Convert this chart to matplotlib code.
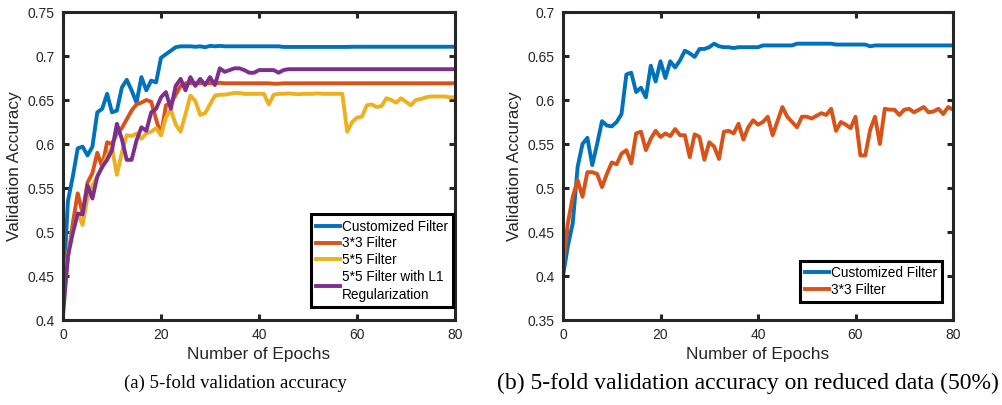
import numpy as np
import matplotlib
matplotlib.use("Agg")
import matplotlib.pyplot as plt
from matplotlib.ticker import FormatStrFormatter

# epochs 0..80
epochs = np.arange(81)

# (a) 5-fold validation accuracy
acc_custom = [0.430, 0.535, 0.563, 0.595, 0.597, 0.587, 0.597, 0.636, 0.640, 0.657,
              0.636, 0.638, 0.664, 0.673, 0.661, 0.647, 0.676, 0.661, 0.672, 0.670,
              0.698, 0.702, 0.706, 0.710, 0.711, 0.711, 0.711, 0.7105, 0.711, 0.710,
              0.7115, 0.711, 0.7115, 0.711, 0.711, 0.711, 0.711, 0.711, 0.711, 0.711,
              0.711, 0.711, 0.711, 0.711, 0.711, 0.7103, 0.7103, 0.7103, 0.7103, 0.7103,
              0.7103, 0.7103, 0.7103, 0.7103, 0.7103, 0.7103, 0.7103, 0.7103, 0.7103, 0.7105,
              0.7105, 0.7105, 0.7105, 0.7105, 0.7105, 0.7105, 0.7105, 0.7105, 0.7105, 0.7105,
              0.7105, 0.7105, 0.7105, 0.7105, 0.7105, 0.7105, 0.7105, 0.7105, 0.7105, 0.7105,
              0.7105]
acc_3x3 = [0.420, 0.470, 0.510, 0.544, 0.521, 0.556, 0.567, 0.590, 0.574, 0.602,
           0.600, 0.612, 0.618, 0.628, 0.638, 0.645, 0.647, 0.650, 0.648, 0.628,
           0.610, 0.644, 0.646, 0.656, 0.666, 0.669, 0.669, 0.669, 0.669, 0.669,
           0.669, 0.669, 0.6695, 0.669, 0.669, 0.669, 0.669, 0.669, 0.669, 0.669,
           0.669, 0.669, 0.669, 0.6685, 0.6685, 0.669, 0.669, 0.669, 0.669, 0.669,
           0.669, 0.669, 0.669, 0.669, 0.669, 0.669, 0.669, 0.669, 0.669, 0.669,
           0.669, 0.669, 0.669, 0.669, 0.669, 0.669, 0.669, 0.669, 0.669, 0.669,
           0.669, 0.669, 0.669, 0.669, 0.669, 0.669, 0.669, 0.669, 0.669, 0.669,
           0.669]
acc_5x5 = [0.420, 0.476, 0.500, 0.521, 0.508, 0.540, 0.553, 0.563, 0.574, 0.587,
           0.596, 0.565, 0.590, 0.610, 0.609, 0.612, 0.606, 0.612, 0.614, 0.618,
           0.610, 0.630, 0.639, 0.622, 0.614, 0.634, 0.655, 0.649, 0.633, 0.635,
           0.645, 0.655, 0.656, 0.656, 0.657, 0.658, 0.658, 0.657, 0.657, 0.657,
           0.657, 0.657, 0.645, 0.656, 0.657, 0.657, 0.6575, 0.657, 0.6565, 0.657,
           0.657, 0.657, 0.6575, 0.657, 0.657, 0.657, 0.657, 0.657, 0.614, 0.625,
           0.630, 0.631, 0.644, 0.645, 0.642, 0.643, 0.652, 0.650, 0.647, 0.652,
           0.648, 0.644, 0.650, 0.651, 0.653, 0.654, 0.654, 0.654, 0.654, 0.653,
           0.653]
acc_5x5_l1 = [0.405, 0.473, 0.499, 0.521, 0.520, 0.553, 0.538, 0.563, 0.574, 0.582,
              0.593, 0.623, 0.606, 0.582, 0.582, 0.604, 0.619, 0.615, 0.636, 0.640,
              0.653, 0.659, 0.640, 0.666, 0.674, 0.661, 0.676, 0.666, 0.674, 0.667,
              0.676, 0.667, 0.686, 0.682, 0.684, 0.686, 0.686, 0.684, 0.681, 0.681,
              0.684, 0.684, 0.684, 0.684, 0.681, 0.684, 0.685, 0.685, 0.685, 0.685,
              0.685, 0.685, 0.685, 0.685, 0.685, 0.685, 0.685, 0.685, 0.685, 0.685,
              0.685, 0.685, 0.685, 0.685, 0.685, 0.685, 0.685, 0.685, 0.685, 0.685,
              0.685, 0.685, 0.685, 0.685, 0.685, 0.685, 0.685, 0.685, 0.685, 0.685,
              0.685]

# (b) reduced data (50%)
red_custom = [0.400, 0.434, 0.460, 0.524, 0.550, 0.557, 0.526, 0.550, 0.576, 0.571,
              0.570, 0.575, 0.584, 0.629, 0.631, 0.609, 0.614, 0.603, 0.639, 0.621,
              0.644, 0.625, 0.644, 0.637, 0.645, 0.656, 0.653, 0.649, 0.658, 0.658,
              0.660, 0.664, 0.661, 0.660, 0.660, 0.659, 0.660, 0.660, 0.660, 0.660,
              0.660, 0.662, 0.662, 0.662, 0.662, 0.662, 0.662, 0.662, 0.664, 0.664,
              0.664, 0.664, 0.664, 0.664, 0.664, 0.664, 0.663, 0.663, 0.663, 0.663,
              0.663, 0.663, 0.663, 0.661, 0.662, 0.662, 0.662, 0.662, 0.662, 0.662,
              0.662, 0.662, 0.662, 0.662, 0.662, 0.662, 0.662, 0.662, 0.662, 0.662,
              0.662]
red_3x3 = [0.411, 0.460, 0.490, 0.509, 0.490, 0.518, 0.518, 0.516, 0.501, 0.516,
           0.529, 0.527, 0.539, 0.543, 0.528, 0.562, 0.564, 0.543, 0.556, 0.565,
           0.558, 0.562, 0.559, 0.567, 0.560, 0.560, 0.535, 0.561, 0.558, 0.532,
           0.552, 0.547, 0.533, 0.564, 0.565, 0.562, 0.573, 0.555, 0.569, 0.577,
           0.572, 0.575, 0.581, 0.560, 0.576, 0.592, 0.581, 0.575, 0.569, 0.581,
           0.581, 0.579, 0.582, 0.585, 0.583, 0.590, 0.565, 0.575, 0.572, 0.568,
           0.581, 0.537, 0.537, 0.566, 0.581, 0.550, 0.590, 0.589, 0.589, 0.583,
           0.589, 0.590, 0.586, 0.589, 0.592, 0.586, 0.587, 0.590, 0.584, 0.592,
           0.589]

blue = "#0072BD"
orange = "#D95319"
yellow = "#EDB120"
purple = "#7E2F8E"
frame = "#262626"

sans = ["Liberation Sans Narrow", "Liberation Sans", "DejaVu Sans"]
plt.rcParams["font.family"] = sans

fig = plt.figure(figsize=(10.03, 4.05), dpi=100)
ax1 = fig.add_axes([63 / 1003, 1 - 320 / 405, 392 / 1003, 308 / 405])
ax2 = fig.add_axes([563 / 1003, 1 - 320 / 405, 390 / 1003, 308 / 405])

lw = 2.8
ax1.plot(epochs, acc_custom, color=blue, lw=lw, label="Customized Filter")
ax1.plot(epochs, acc_3x3, color=orange, lw=lw, label="3*3 Filter")
ax1.plot(epochs, acc_5x5, color=yellow, lw=lw, label="5*5 Filter")
ax1.plot(epochs, acc_5x5_l1, color=purple, lw=lw, label="5*5 Filter with L1\nRegularization")
ax1.set_ylim(0.4, 0.75)
ax1.set_yticks(np.arange(0.4, 0.751, 0.05))

ax2.plot(epochs, red_custom, color=blue, lw=lw, label="Customized Filter")
ax2.plot(epochs, red_3x3, color=orange, lw=lw, label="3*3 Filter")
ax2.set_ylim(0.35, 0.7)
ax2.set_yticks(np.arange(0.35, 0.701, 0.05))

legend_anchor = {ax1: (0.995, 0.042), ax2: (0.972, 0.058)}

for ax in (ax1, ax2):
    ax.set_xlim(0, 80)
    ax.set_xticks([0, 20, 40, 60, 80])
    ax.yaxis.set_major_formatter(FormatStrFormatter("%g"))
    for s in ax.spines.values():
        s.set_linewidth(2.2)
        s.set_color(frame)
    ax.tick_params(direction="in", length=4, width=2.2, color=frame,
                   top=True, right=True, labelsize=10, labelcolor=frame, pad=6)
    ax.set_xlabel("Number of Epochs", fontsize=12.4, color=frame, labelpad=3)
    ax.set_ylabel("Validation Accuracy", fontsize=12.4, color=frame, labelpad=4)
    leg = ax.legend(loc="lower right", bbox_to_anchor=legend_anchor[ax], fontsize=9.8,
                    handlelength=1.7, handletextpad=0.15, borderpad=0.4,
                    labelspacing=0.2, borderaxespad=0, fancybox=False, framealpha=1)
    leg.get_frame().set_edgecolor("black")
    leg.get_frame().set_linewidth(2.2)
    for t in leg.get_texts():
        t.set_linespacing(1.35)

fig.text(235 / 1003, 1 - 383 / 405, "(a) 5-fold validation accuracy", ha="center", va="center",
         fontsize=13.5, family="Liberation Serif")
fig.text(748 / 1003, 1 - 383 / 405, "(b) 5-fold validation accuracy on reduced data (50%)",
         ha="center", va="center", fontsize=17, family="Liberation Serif")

fig.savefig("out.png", dpi=100)
